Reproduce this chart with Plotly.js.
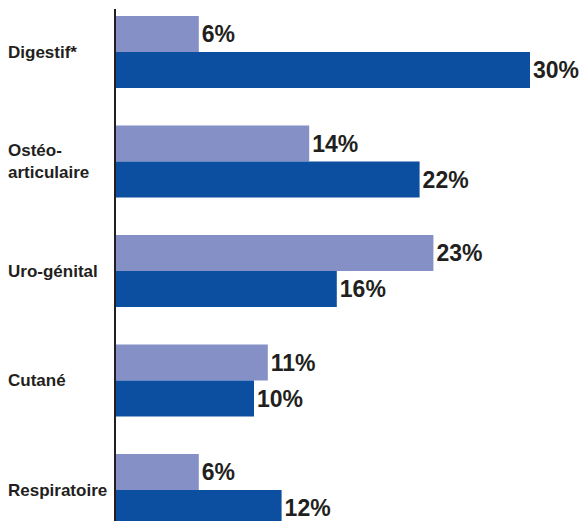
<!DOCTYPE html>
<html>
<head>
<meta charset="utf-8">
<script src="https://cdn.plot.ly/plotly-3.0.1.min.js"></script>
<style>html,body{margin:0;padding:0;background:#fff;}#chart{width:584px;height:521px;}</style>
</head>
<body>
<div id="chart"></div>
<script>
const categories = ["Digestif*", "Ostéo-<br>articulaire", "Uro-génital", "Cutané", "Respiratoire"];
const seriesLight = [6, 14, 23, 11, 6];
const seriesDark = [30, 22, 16, 10, 12];
const lightLabels = ["6%", "14%", "23%", "11%", "6%"];
const darkLabels = ["30%", "22%", "16%", "10%", "12%"];

const FONT = '"Liberation Sans", Arial, sans-serif';
const INK = '#231f20';

const common = {
  type: 'bar', orientation: 'h', textposition: 'outside', cliponaxis: false,
  constraintext: 'none', hoverinfo: 'none',
  textfont: {family: FONT, size: 23, color: INK, weight: 'bold'}
};

const data = [
  Object.assign({}, common, {y: categories, x: seriesLight, text: lightLabels, marker: {color: '#8490c6'}}),
  Object.assign({}, common, {y: categories, x: seriesDark, text: darkLabels, marker: {color: '#0c4fa0'}})
];

const plotW = 584 - 116;
const annotations = categories.map(c => ({
  xref: 'paper', yref: 'y', x: (6 - 116) / plotW, y: c, text: '<b>' + c + '</b>',
  showarrow: false, xanchor: 'left', yanchor: 'middle', align: 'left',
  font: {family: FONT, size: 17, color: INK}
}));

const layout = {
  width: 584, height: 521,
  margin: {l: 116, r: 0, t: 9, b: 0, pad: 0},
  paper_bgcolor: '#ffffff', plot_bgcolor: '#ffffff',
  barmode: 'group', bargap: 0.343, bargroupgap: 0,
  showlegend: false,
  xaxis: {range: [0, 30 * plotW / 414], visible: false, showgrid: false, zeroline: false, fixedrange: true},
  yaxis: {type: 'category', categoryarray: categories, range: [4.283, -0.393],
          showticklabels: false, ticks: '', showgrid: false, zeroline: false,
          showline: true, linecolor: INK, linewidth: 2, fixedrange: true},
  annotations: annotations
};

Plotly.newPlot('chart', data, layout, {displayModeBar: false, staticPlot: true});
</script>
</body>
</html>
